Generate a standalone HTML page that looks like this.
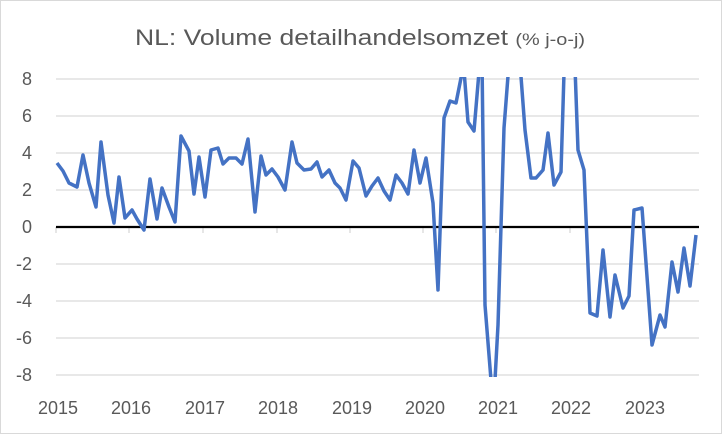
<!DOCTYPE html>
<html><head><meta charset="utf-8"><style>
html,body{margin:0;padding:0;background:#fff;}
svg{display:block;font-family:"Liberation Sans","DejaVu Sans",sans-serif;}
</style></head><body>
<svg width="722" height="434" viewBox="0 0 722 434" xmlns="http://www.w3.org/2000/svg">
<rect x="0.5" y="0.5" width="721" height="433" fill="#fff" stroke="#d9d9d9"/>
<text x="135" y="45" font-size="22" fill="#595959" textLength="450" lengthAdjust="spacingAndGlyphs">NL: Volume detailhandelsomzet <tspan font-size="16.5">(% j-o-j)</tspan></text>
<g stroke="#d9d9d9" stroke-width="1.3">
<line x1="56" x2="699" y1="79" y2="79"/><line x1="56" x2="699" y1="116" y2="116"/>
<line x1="56" x2="699" y1="153" y2="153"/><line x1="56" x2="699" y1="190" y2="190"/>
<line x1="56" x2="699" y1="264" y2="264"/><line x1="56" x2="699" y1="301" y2="301"/>
<line x1="56" x2="699" y1="338" y2="338"/><line x1="56" x2="699" y1="375" y2="375"/>
<line x1="56" x2="56" y1="227" y2="233"/><line x1="129" x2="129" y1="227" y2="233"/>
<line x1="203" x2="203" y1="227" y2="233"/><line x1="277" x2="277" y1="227" y2="233"/>
<line x1="350" x2="350" y1="227" y2="233"/><line x1="423" x2="423" y1="227" y2="233"/>
<line x1="496" x2="496" y1="227" y2="233"/><line x1="570" x2="570" y1="227" y2="233"/>
</g>
<g font-size="18" fill="#595959" text-anchor="end">
<text x="32" y="85">8</text><text x="32" y="122">6</text><text x="32" y="159">4</text>
<text x="32" y="196">2</text><text x="32" y="233">0</text><text x="32" y="270">-2</text>
<text x="32" y="307">-4</text><text x="32" y="344">-6</text><text x="32" y="381">-8</text>
</g>
<g font-size="18" fill="#595959" text-anchor="middle">
<text x="58" y="414">2015</text><text x="131" y="414">2016</text><text x="205" y="414">2017</text>
<text x="278" y="414">2018</text><text x="352" y="414">2019</text><text x="425" y="414">2020</text>
<text x="498" y="414">2021</text><text x="571" y="414">2022</text><text x="645" y="414">2023</text>
</g>
<line x1="56" x2="699" y1="227" y2="227" stroke="#000" stroke-width="2.2"/>
<clipPath id="c"><rect x="40" y="77" width="670" height="300"/></clipPath>
<polyline clip-path="url(#c)" fill="none" stroke="#4472c4" stroke-width="3.5" stroke-linejoin="round" points="57,163 63,171 69,183 77,187 83,155 89,183 96,207 101,142 108,195 114,223 119,177 125,218 132,210 137,219 144,230 150,179 157,219 162,188 169,207 175,222 181,136 189,151 194,194 199,157 205,197 211,150 218,148 223,164 229,158 236,158 242,164 248,139 255,212 261,156 266,175 272,169 278,177 285,190 292,142 297,163 304,170 311,169 317,162 322,177 329,170 335,183 340,188 346,200 353,161 359,168 366,196 372,186 378,178 384,191 390,200 396,175 402,183 408,194 414,150 420,183 426,158 433,203 438,290 444,118 450,101 456,103 461,78 464,70 468,122 474,131 480,60 482,60 485,305 491,380 495,380 498,325 504,128 510,50 519,50 525,130 531,178 536,178 543,170 548,133 554,185 561,172 565,40 574,40 578,150 584,170 590,313 597,316 603,250 610,317 615,275 623,308 629,296 634,210 642,208 652,345 660,315 665,327 672,262 678,292 684,248 690,286 696,235"/>
</svg>
</body></html>
